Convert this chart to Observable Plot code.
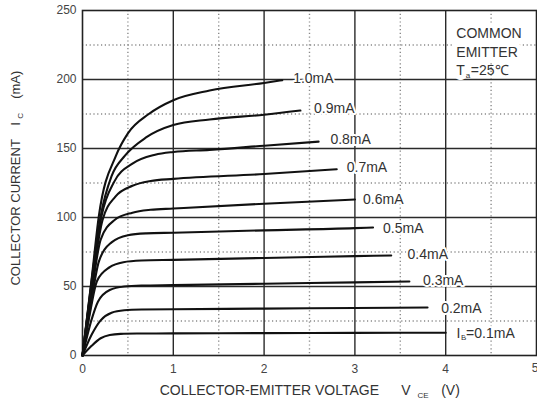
<!DOCTYPE html>
<html>
<head>
<meta charset="utf-8">
<script src="https://cdn.jsdelivr.net/npm/d3@7"></script>
<script src="https://cdn.jsdelivr.net/npm/@observablehq/plot@0.6"></script>
<style>
  html, body { margin: 0; padding: 0; background: #fff; }
  #chart { width: 537px; height: 406px; }
</style>
</head>
<body>
<div id="chart"></div>
<script>
// Base-current curves: [V_CE (V), I_C (mA)]
const ib01 = [[0,0],[0.1,7],[0.2,12.5],[0.3,14.9],[0.42,15.7],[0.6,15.9],[1,16],[2,16.2],[3,16.4],[4,16.5]];
const ib02 = [[0,0],[0.1,15],[0.2,25.5],[0.32,31],[0.46,32.8],[0.65,33.3],[1,33.5],[2,34],[3,34.4],[3.8,34.8]];
const ib03 = [[0,0],[0.1,26],[0.17,39],[0.3,47.5],[0.46,50],[0.65,50.7],[1,51],[2,52],[3,53],[3.6,53.6]];
const ib04 = [[0,0],[0.08,30],[0.16,54],[0.3,64],[0.45,67.6],[0.65,68.8],[1,69.3],[2,70.7],[3,72],[3.4,72.5]];
const ib05 = [[0,0],[0.09,36],[0.18,68],[0.32,82],[0.5,87.2],[0.7,88.5],[1,89],[2,90.7],[3,92.3],[3.2,92.8]];
const ib06 = [[0,0],[0.1,45],[0.2,84],[0.35,98],[0.55,103.5],[0.75,105.6],[1,106.5],[2,110],[3,113]];
const ib07 = [[0,0],[0.1,50],[0.22,98],[0.36,115],[0.55,123],[0.75,126.5],[1,128],[2,131.5],[2.8,135]];
const ib08 = [[0,0],[0.1,52],[0.21,101],[0.35,126],[0.55,139],[0.8,145.5],[1,147.5],[1.4,149],[2,152],[2.6,155]];
const ib09 = [[0,0],[0.1,54],[0.2,101],[0.32,130],[0.47,145],[0.7,158],[1,167],[1.4,171],[2,174.5],[2.4,177.5]];
const ib10 = [[0,0],[0.1,55],[0.18,101],[0.37,145],[0.5,161],[0.73,175],[1,185],[1.4,192],[2,197.5],[2.2,199.5]];
const seriesNames = [0.1,0.2,0.3,0.4,0.5,0.6,0.7,0.8,0.9,1.0];
const seriesValues = [ib01,ib02,ib03,ib04,ib05,ib06,ib07,ib08,ib09,ib10];

// Curve labels
const labelText = ["0.2mA","0.3mA","0.4mA","0.5mA","0.6mA","0.7mA","0.8mA","0.9mA","1.0mA"];
const labelV    = [3.95, 3.75, 3.58, 3.31, 3.09, 2.91, 2.73, 2.55, 2.32];
const labelI    = [34, 54.3, 73, 92, 113, 136, 156.5, 179, 200.7];
const ib01Label = {v: 4.12, i: 16};

// Ticks / grid
const xTicks = [0,1,2,3,4];
const xLastTick = 5;
const yTicks = [0,50,100,150,200,250];
const xMajor = [1,2,3,4];
const yMajor = [50,100,150,200];
const xMinor = [0.5,1.5,2.5,3.5,4.5];
const yMinor = [25,75,125,175,225];

// Annotation block
const noteLines = ["COMMON","EMITTER"];
const noteI = [233.3, 219.6, 206.5];
const noteV = 4.117;

const rows = [];
seriesValues.forEach((s, k) => s.forEach(([v, i]) => rows.push({ib: seriesNames[k], v, i})));
const labels = labelText.map((t, k) => ({t, v: labelV[k], i: labelI[k]}));

const txt = "#333";
const font = "'Liberation Sans', Arial, sans-serif";
const xt = {frameAnchor: "bottom", lineAnchor: "middle", textAnchor: "start", fill: txt};
const yt = {frameAnchor: "left", lineAnchor: "middle", rotate: -90, textAnchor: "start", fill: txt};

const plot = Plot.plot({
  width: 537,
  height: 406,
  marginLeft: 82,
  marginRight: 1,
  marginTop: 10,
  marginBottom: 51,
  style: {fontFamily: font, fontSize: "12px", color: txt, background: "white"},
  x: {domain: [0, 5]},
  y: {domain: [0, 250]},
  marks: [
    Plot.ruleX(xMinor, {stroke: "#8a8a8a", strokeWidth: 1.4, strokeDasharray: "1.2,2.6"}),
    Plot.ruleY(yMinor, {stroke: "#8a8a8a", strokeWidth: 1.4, strokeDasharray: "1.2,2.6"}),
    Plot.ruleX(xMajor, {stroke: "#2a2a2a", strokeWidth: 1.4}),
    Plot.ruleY(yMajor, {stroke: "#2a2a2a", strokeWidth: 1.4}),
    Plot.frame({stroke: "#222", strokeWidth: 1.6}),
    Plot.axisX({ticks: xTicks, tickFormat: d3.format("d"), tickSize: 0, tickPadding: 9, label: null, fontSize: 12, fill: "#444"}),
    Plot.text([xLastTick], {x: d => d, frameAnchor: "bottom", lineAnchor: "middle", dy: 13, text: d => String(d), textAnchor: "end", dx: 2, fontSize: 12, fill: "#444"}),
    Plot.axisY({ticks: yTicks, tickFormat: d3.format("d"), tickSize: 0, tickPadding: 6, label: null, fontSize: 12, fill: "#444"}),
    Plot.line(rows, {x: "v", y: "i", z: "ib", curve: "monotone-x", stroke: "#111", strokeWidth: 2.1}),
    // curve labels
    Plot.text(labels, {x: "v", y: "i", text: "t", textAnchor: "start", fontSize: 14, fill: txt, stroke: "white", strokeWidth: 4}),
    Plot.text([ib01Label], {x: "v", y: "i", text: () => "I", textAnchor: "start", fontSize: 14, fill: txt, stroke: "white", strokeWidth: 4}),
    Plot.text([ib01Label], {x: "v", y: "i", text: () => "B", textAnchor: "start", fontSize: 8, dx: 4.5, dy: 4, fill: txt}),
    Plot.text([ib01Label], {x: "v", y: "i", text: () => "=0.1mA", textAnchor: "start", fontSize: 14, dx: 9.5, fill: txt, stroke: "white", strokeWidth: 4}),
    // note block
    Plot.text(noteLines, {x: () => noteV, y: (d, k) => noteI[k], text: d => d, textAnchor: "start", fontSize: 14, fill: txt, stroke: "white", strokeWidth: 10}),
    Plot.text(["T"], {x: () => noteV, y: () => noteI[2], text: d => d, textAnchor: "start", fontSize: 14, fill: txt, stroke: "white", strokeWidth: 10}),
    Plot.text(["a"], {x: () => noteV, y: () => noteI[2], text: d => d, textAnchor: "start", fontSize: 8, dx: 9.5, dy: 5, fill: txt}),
    Plot.text(["=25℃"], {x: () => noteV, y: () => noteI[2], text: d => d, textAnchor: "start", fontSize: 14, dx: 14.5, fill: txt}),
    // x axis title
    Plot.text(["COLLECTOR-EMITTER VOLTAGE"], {...xt, x: () => 0.85, dy: 35, text: d => d, fontSize: 14}),
    Plot.text(["V"], {...xt, x: () => 3.51, dy: 35, text: d => d, fontSize: 14}),
    Plot.text(["CE"], {...xt, x: () => 3.69, dy: 40, text: d => d, fontSize: 8}),
    Plot.text(["(V)"], {...xt, x: () => 3.95, dy: 35, text: d => d, fontSize: 14}),
    // y axis title
    Plot.text(["COLLECTOR CURRENT"], {...yt, y: () => 50.7, dx: -67, text: d => d, fontSize: 13}),
    Plot.text(["I"], {...yt, y: () => 166.5, dx: -67, text: d => d, fontSize: 13}),
    Plot.text(["C"], {...yt, y: () => 171.5, dx: -62, text: d => d, fontSize: 8}),
    Plot.text(["(mA)"], {...yt, y: () => 186, dx: -67, text: d => d, fontSize: 13})
  ]
});
document.getElementById("chart").appendChild(plot);
</script>
</body>
</html>
